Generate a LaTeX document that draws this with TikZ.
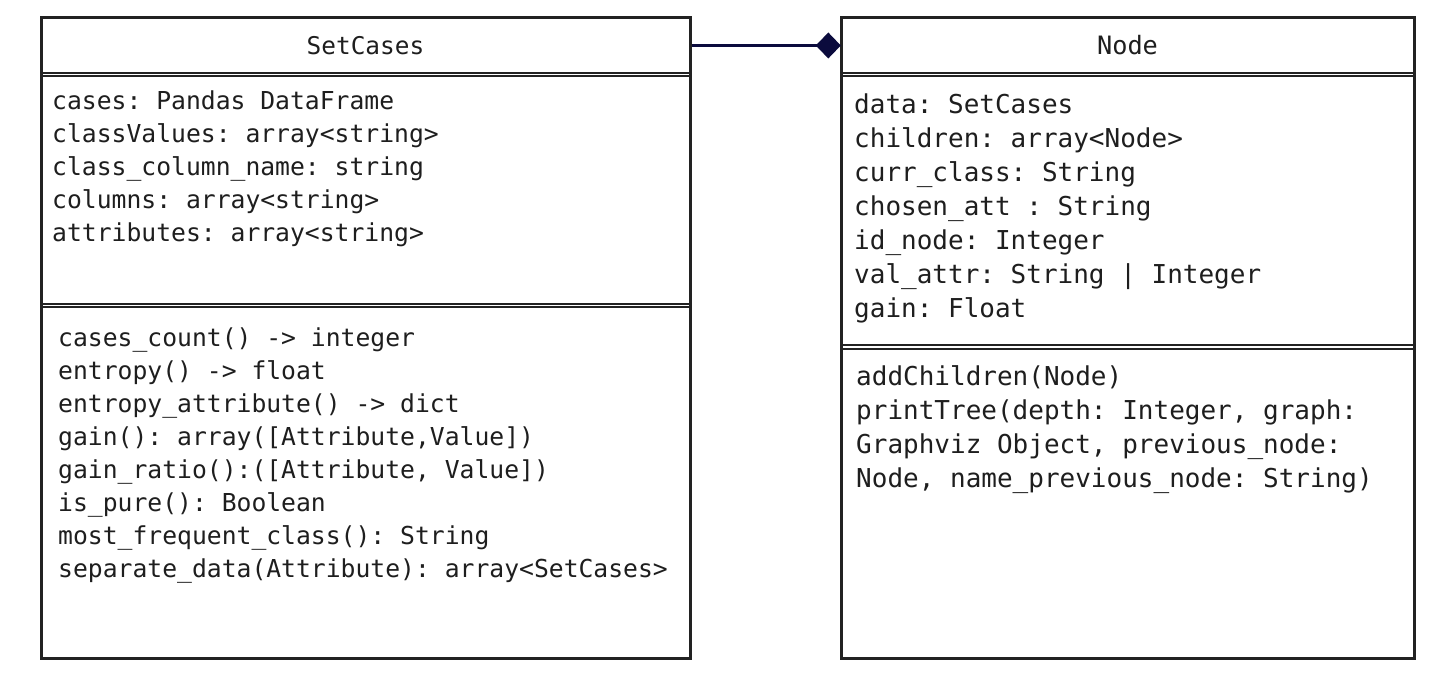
\documentclass[tikz,border=0pt]{standalone}
\usepackage{fontspec}
\setmonofont{DejaVu Sans Mono}
\usetikzlibrary{arrows.meta}
\definecolor{bordercol}{HTML}{222222}
\definecolor{linknavy}{HTML}{0B0B3D}
\definecolor{textcol}{HTML}{1E1E1E}
\begin{document}
\begin{tikzpicture}[x=1pt,y=-1pt,
  classbox/.style={draw=bordercol, line width=3pt, inner sep=0pt},
  sepline/.style={draw=bordercol, line width=2pt},
  sctext/.style={anchor=base west, inner sep=0pt, text=textcol, font=\ttfamily\fontsize{24.7}{29}\selectfont},
  ndtext/.style={anchor=base west, inner sep=0pt, text=textcol, font=\ttfamily\fontsize{26}{31}\selectfont},
  sctitle/.style={inner sep=0pt, text=textcol, font=\ttfamily\fontsize{24.4}{29}\selectfont},
  ndtitle/.style={inner sep=0pt, text=textcol, font=\ttfamily\fontsize{25.3}{29}\selectfont},
  link/.style={draw=linknavy, line width=3pt, -{Diamond[length=25pt,width=26pt]}}
]
\useasboundingbox (0,0) rectangle (1443,692);
\fill[white] (0,0) rectangle (1443,692);

% SetCases class
\node[classbox, minimum width=649pt, minimum height=640pt] (scbox) at (365.5,338) {};
\node[sctitle, minimum width=649pt, minimum height=55pt] (schead) at (365.5,45.5) {SetCases};
\draw[sepline] (41,73) -- (690,73);
\draw[sepline] (41,76.5) -- (690,76.5);
\draw[sepline] (41,304) -- (690,304);
\draw[sepline] (41,307.5) -- (690,307.5);

\node[sctext] (sca1) at (52,110) {cases: Pandas DataFrame};
\node[sctext] (sca2) at (52,142.8) {classValues: array<string>};
\node[sctext] (sca3) at (52,175.6) {class\_column\_name: string};
\node[sctext] (sca4) at (52,208.4) {columns: array<string>};
\node[sctext] (sca5) at (52,241.2) {attributes: array<string>};

\node[sctext] (scm1) at (58,347) {cases\_count() -> integer};
\node[sctext] (scm2) at (58,379.9) {entropy() -> float};
\node[sctext] (scm3) at (58,412.8) {entropy\_attribute() -> dict};
\node[sctext] (scm4) at (58,445.7) {gain(): array([Attribute,Value])};
\node[sctext] (scm5) at (58,478.6) {gain\_ratio():([Attribute, Value])};
\node[sctext] (scm6) at (58,511.5) {is\_pure(): Boolean};
\node[sctext] (scm7) at (58,544.4) {most\_frequent\_class(): String};
\node[sctext] (scm8) at (58,577.3) {separate\_data(Attribute): array<SetCases>};

% Node class
\node[classbox, minimum width=573pt, minimum height=640pt] (ndbox) at (1127.5,338) {};
\node[ndtitle, minimum width=573pt, minimum height=55pt] (ndhead) at (1127.5,45.5) {Node};
\draw[sepline] (841,73) -- (1414,73);
\draw[sepline] (841,76.5) -- (1414,76.5);
\draw[sepline] (841,345.5) -- (1414,345.5);
\draw[sepline] (841,349) -- (1414,349);

\node[ndtext] (nda1) at (854,113.5) {data: SetCases};
\node[ndtext] (nda2) at (854,147.5) {children: array<Node>};
\node[ndtext] (nda3) at (854,181.5) {curr\_class: String};
\node[ndtext] (nda4) at (854,215.5) {chosen\_att : String};
\node[ndtext] (nda5) at (854,249.5) {id\_node: Integer};
\node[ndtext] (nda6) at (854,283.5) {val\_attr: String | Integer};
\node[ndtext] (nda7) at (854,317.5) {gain: Float};

\node[ndtext] (ndm1) at (856,386) {addChildren(Node)};
\node[ndtext] (ndm2) at (856,419.7) {printTree(depth: Integer, graph:};
\node[ndtext] (ndm3) at (856,453.4) {Graphviz Object, previous\_node:};
\node[ndtext] (ndm4) at (856,487.1) {Node, name\_previous\_node: String)};

% association
\draw[link, shorten <=2pt] (schead.east) -- (ndhead.west);
\end{tikzpicture}
\end{document}
